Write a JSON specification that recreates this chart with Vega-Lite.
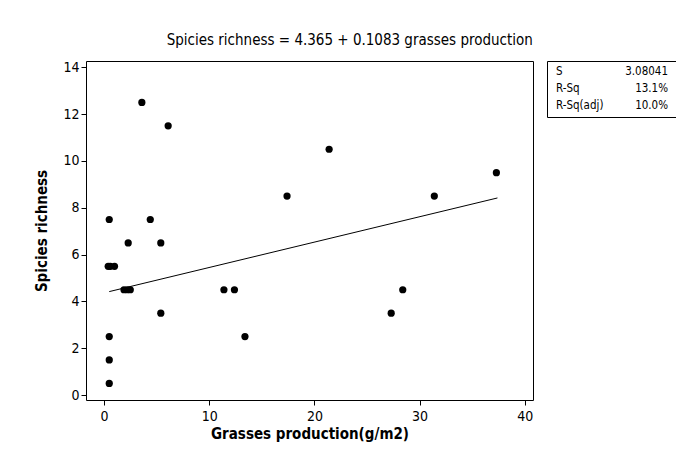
{
  "$schema": "https://vega.github.io/schema/vega-lite/v6.json",
  "background": "white",
  "padding": {"left": 33, "top": 32, "right": 0, "bottom": 10},
  "title": {
    "text": "Spicies richness =  4.365 + 0.1083 grasses production",
    "anchor": "middle",
    "font": "DejaVu Sans Condensed",
    "fontSize": 15,
    "fontWeight": "normal",
    "color": "#000",
    "offset": 12,
    "dx": -6
  },
  "spacing": 14,
  "bounds": "flush",
  "config": {
    "view": {"stroke": null},
    "font": "DejaVu Sans Condensed",
    "axis": {
      "domain": false,
      "grid": false,
      "tickColor": "#000",
      "tickSize": 5,
      "labelColor": "#000",
      "labelFontSize": 14,
      "titleColor": "#000",
      "titleFontSize": 15,
      "titleFontWeight": "bold"
    }
  },
  "hconcat": [
    {
      "width": 447,
      "height": 339,
      "view": {"stroke": "#000", "strokeWidth": 1},
      "layer": [
        {
          "data": {
            "values": [
              {"production": 3.6, "richness": 12.5},
              {"production": 6.1, "richness": 11.5},
              {"production": 0.5, "richness": 7.5},
              {"production": 4.4, "richness": 7.5},
              {"production": 2.3, "richness": 6.5},
              {"production": 5.4, "richness": 6.5},
              {"production": 0.4, "richness": 5.5},
              {"production": 0.6, "richness": 5.5},
              {"production": 1.0, "richness": 5.5},
              {"production": 1.9, "richness": 4.5},
              {"production": 2.2, "richness": 4.5},
              {"production": 2.5, "richness": 4.5},
              {"production": 11.4, "richness": 4.5},
              {"production": 12.4, "richness": 4.5},
              {"production": 5.4, "richness": 3.5},
              {"production": 0.5, "richness": 2.5},
              {"production": 13.4, "richness": 2.5},
              {"production": 0.5, "richness": 1.5},
              {"production": 0.5, "richness": 0.5},
              {"production": 17.4, "richness": 8.5},
              {"production": 21.4, "richness": 10.5},
              {"production": 31.4, "richness": 8.5},
              {"production": 37.3, "richness": 9.5},
              {"production": 28.4, "richness": 4.5},
              {"production": 27.3, "richness": 3.5}
            ]
          },
          "mark": {"type": "circle", "color": "#000", "size": 52, "opacity": 1},
          "encoding": {
            "x": {
              "field": "production",
              "type": "quantitative",
              "title": "Grasses production(g/m2)",
              "scale": {"domain": [-1.71, 40.78], "nice": false, "zero": false},
              "axis": {"values": [0, 10, 20, 30, 40], "labelPadding": 4, "titlePadding": 3.5}
            },
            "y": {
              "field": "richness",
              "type": "quantitative",
              "title": "Spicies richness",
              "scale": {"domain": [-0.21, 14.27], "nice": false, "zero": false},
              "axis": {"values": [0, 2, 4, 6, 8, 10, 12, 14], "labelPadding": 2, "titlePadding": 13.5}
            }
          }
        },
        {
          "data": {
            "values": [
              {"production": 0.5, "fit": 4.42},
              {"production": 37.4, "fit": 8.42}
            ]
          },
          "mark": {"type": "line", "color": "#000", "strokeWidth": 1},
          "encoding": {
            "x": {"field": "production", "type": "quantitative", "title": "Grasses production(g/m2)"},
            "y": {"field": "fit", "type": "quantitative", "title": "Spicies richness"}
          }
        }
      ]
    },
    {
      "width": 130,
      "height": 56,
      "view": {"stroke": "#000", "strokeWidth": 1},
      "data": {
        "values": [
          {"stat": "S", "value": "3.08041"},
          {"stat": "R-Sq", "value": "13.1%"},
          {"stat": "R-Sq(adj)", "value": "10.0%"}
        ]
      },
      "encoding": {
        "y": {
          "field": "stat",
          "type": "nominal",
          "sort": ["S", "R-Sq", "R-Sq(adj)"],
          "scale": {"type": "point", "padding": 0.68},
          "axis": null
        }
      },
      "layer": [
        {
          "mark": {"type": "text", "align": "left", "baseline": "middle", "fontSize": 11.5, "color": "#000"},
          "encoding": {
            "x": {"datum": "name", "type": "nominal", "scale": {"type": "point", "domain": ["name", "value"], "padding": 0.08}, "axis": null},
            "text": {"field": "stat"}
          }
        },
        {
          "mark": {"type": "text", "align": "right", "baseline": "middle", "fontSize": 11.5, "color": "#000"},
          "encoding": {
            "x": {"datum": "value", "type": "nominal"},
            "text": {"field": "value"}
          }
        }
      ]
    }
  ]
}
